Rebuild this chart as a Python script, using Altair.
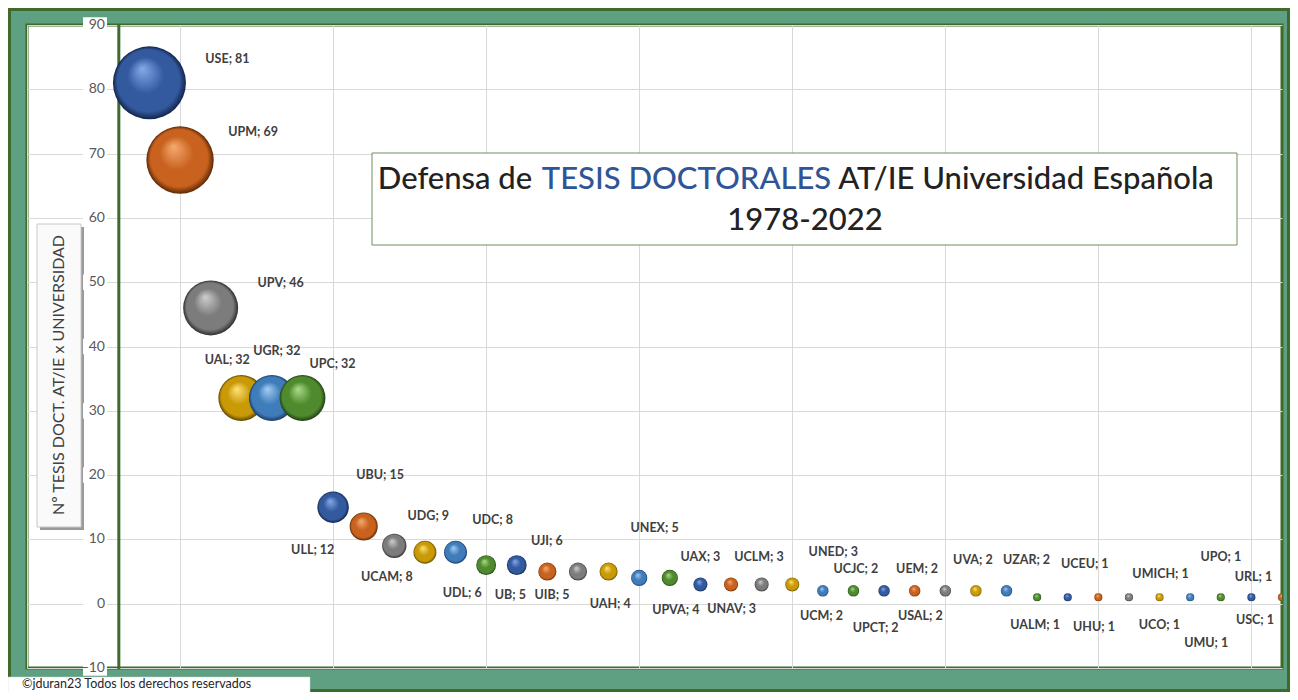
import altair as alt
import pandas as pd

# ---------------- data ----------------
names = ["USE", "UPM", "UPV", "UAL", "UGR", "UPC", "UBU", "ULL", "UDG", "UCAM",
         "UDC", "UDL", "UJI", "UB", "UIB", "UNEX", "UAH", "UPVA", "UAX", "UCLM",
         "UNAV", "UNED", "UCJC", "UCM", "UEM", "UPCT", "USAL", "UVA", "UZAR", "UALM",
         "UCEU", "UCO", "UHU", "UMICH", "UMU", "UPO", "URL", "USC"]
values = [81, 69, 46, 32, 32, 32, 15, 12, 9, 8,
          8, 6, 6, 5, 5, 5, 4, 4, 3, 3,
          3, 3, 2, 2, 2, 2, 2, 2, 2, 1,
          1, 1, 1, 1, 1, 1, 1, 1]
y_ticks = [-10, 0, 10, 20, 30, 40, 50, 60, 70, 80, 90]
x_grid = [-3, 2, 7, 12, 17, 22, 27, 32, 37]

# label placement (pixel offsets of each data label from its bubble centre)
label_dx = [78, 73, 70, -14, 5, 30, 47, -51, 34, -38, 37, -24, 30, -37, -26, 46, -29, 6, 0, 28,
            -30, 41, 33, -32, 33, -39, -25, -3, 20, -2, 17, 61, -35, 1, 16, 0, 2, -27]
label_dy = [-24, -28, -25, -38, -47, -34, -32, 23, -30, 25, -32, 28, -24, 23, 23, -44, 26, 32, -27, -27,
            25, -32, -22, 25, -22, 37, 25, -31, -31, 28, -33, 28, 30, -23, 46, -40, -20, 23]

# sphere colours (highlight, base, edge) cycling like Excel's palette
palette = [
    ("#86ABEB", "#335A9F", "#12244A"),   # blue
    ("#F7AB70", "#C8621E", "#5E2806"),   # orange
    ("#CFCFCF", "#7C7C7C", "#2E2E2E"),   # gray
    ("#FFE27A", "#C99A06", "#5E4700"),   # gold
    ("#A4CDF2", "#3F7CBA", "#1A3B62"),   # light blue
    ("#AEDC8A", "#4F8B2E", "#213F16"),   # green
]

W, H = 1255, 643
X_DOM = [-3, 38]
Y_DOM = [-10, 90]
px_x = W / (X_DOM[1] - X_DOM[0])
px_y = H / (Y_DOM[1] - Y_DOM[0])

df = pd.DataFrame({"idx": list(range(1, len(names) + 1)), "name": names, "value": values,
                   "dx": label_dx, "dy": label_dy})
df["group"] = (df["idx"] - 1) % 6
df["label"] = df["name"] + "; " + df["value"].astype(str)
df["lx"] = df["idx"] + df["dx"] / px_x
df["ly"] = df["value"] - df["dy"] / px_y

ticks_df = pd.DataFrame({"t": y_ticks})
one = pd.DataFrame({"k": [0]})

FONT = "Lato"
DARK_GREEN = "#3E6B2B"

xs = alt.Scale(domain=X_DOM, nice=False, zero=False)
ys = alt.Scale(domain=Y_DOM, nice=False, zero=False)
xax = alt.Axis(values=x_grid, grid=True, labels=False, ticks=False, domain=False, title=None,
               gridColor="#D9D9D9", gridWidth=1)
yax = alt.Axis(values=y_ticks, grid=True, labels=False, ticks=False, domain=False, title=None,
               gridColor="#D9D9D9", gridWidth=1)


def X(f):
    return alt.X(f, type="quantitative", scale=xs, axis=xax)


def Y(f):
    return alt.Y(f, type="quantitative", scale=ys, axis=yax)


def grad(g):
    hi, base, edge = palette[g]
    return {"gradient": "radial", "x1": 0.4, "y1": 0.3, "r1": 0.0,
            "x2": 0.5, "y2": 0.5, "r2": 0.5,
            "stops": [{"offset": 0.0, "color": hi},
                      {"offset": 0.5, "color": base},
                      {"offset": 0.85, "color": base},
                      {"offset": 1.0, "color": edge}]}


layers = []

# outer dark-green frame
layers.append(alt.Chart(one).mark_rect(fill=None, stroke=DARK_GREEN, strokeWidth=3).encode(
    x=alt.value(-17.5), x2=alt.value(W + 6.5), y=alt.value(-15.5), y2=alt.value(H + 22.5)))

# copyright box
layers.append(alt.Chart(one).mark_rect(fill="white", stroke="#D0D0D0", strokeWidth=0.5).encode(
    x=alt.value(-19), x2=alt.value(283), y=alt.value(652), y2=alt.value(680)))
layers.append(alt.Chart(one).mark_text(align="left", baseline="middle", font=FONT, fontSize=12.5,
                                       color="#262626").encode(
    x=alt.value(-5), y=alt.value(659), text=alt.value("©jduran23 Todos los derechos reservados")))

# title box
layers.append(alt.Chart(one).mark_rect(fill="white", stroke="#6F8F5F", strokeWidth=1).encode(
    x=alt.value(345), x2=alt.value(1210), y=alt.value(128), y2=alt.value(220)))
title_parts = [("Defensa de", 428, 155, "#222222"),
               ("TESIS DOCTORALES", 659.5, 155, "#2F5597"),
               ("AT/IE Universidad Española", 999, 155, "#222222"),
               ("1978-2022", 778, 196, "#222222")]
for txt, tx, ty, col in title_parts:
    layers.append(alt.Chart(one).mark_text(align="center", baseline="middle", font=FONT,
                                           fontSize=31, fontWeight=500, color=col).encode(
        x=alt.value(tx), y=alt.value(ty), text=alt.value(txt)))

# y-axis title box (bevelled)
layers.append(alt.Chart(one).mark_rect(fill="#9A9A9A").encode(
    x=alt.value(13), x2=alt.value(57), y=alt.value(202), y2=alt.value(505)))
layers.append(alt.Chart(one).mark_rect(fill="#FAFAFA", stroke="#C8C8C8", strokeWidth=1).encode(
    x=alt.value(10), x2=alt.value(54), y=alt.value(199), y2=alt.value(502)))
layers.append(alt.Chart(one).mark_text(align="center", baseline="middle", font=FONT, fontSize=16,
                                       angle=270, color="#404040").encode(
    x=alt.value(32), y=alt.value(350), text=alt.value("Nº TESIS DOCT. AT/IE  x UNIVERSIDAD")))

# y tick labels with white backing
layers.append(alt.Chart(ticks_df).transform_calculate(lo="datum.t - 1.2", hi="datum.t + 1.2").mark_rect(
    color="white").encode(x=alt.value(56), x2=alt.value(80), y=Y("lo"), y2=alt.Y2("hi")))
layers.append(alt.Chart(ticks_df).mark_text(align="right", baseline="middle", font=FONT, fontSize=14,
                                            color="#595959").encode(
    x=alt.value(78), y=Y("t"), text=alt.Text("t:Q")))

# vertical axis line at x = 0
layers.append(alt.Chart(pd.DataFrame({"x0": [0]})).mark_rule(color=DARK_GREEN, strokeWidth=3).encode(
    x=X("x0"), y=alt.value(0), y2=alt.value(H + 1)))

# bubbles
for g in range(6):
    layers.append(alt.Chart(df).transform_filter(alt.datum.group == g).mark_circle(
        color=grad(g), opacity=1, clip=True).encode(
        x=X("idx"), y=Y("value"),
        size=alt.Size("value:Q", scale=alt.Scale(domain=[0, 81], range=[0, 5329]), legend=None)))

# data labels
layers.append(alt.Chart(df).mark_text(align="center", baseline="middle", font=FONT, fontSize=12.5,
                                      fontWeight="bold", color="#404040").encode(
    x=X("lx"), y=Y("ly"), text="label:N"))

chart = alt.layer(*layers).properties(
    width=W, height=H, background="#5FA083",
    padding={"left": 19, "top": 17, "right": 8, "bottom": 24},
    autosize=alt.AutoSizeParams(type="none"),
).configure_view(fill="white", stroke=DARK_GREEN, strokeWidth=3)

chart.save("out.html", embed_options={"renderer": "svg", "actions": False})
